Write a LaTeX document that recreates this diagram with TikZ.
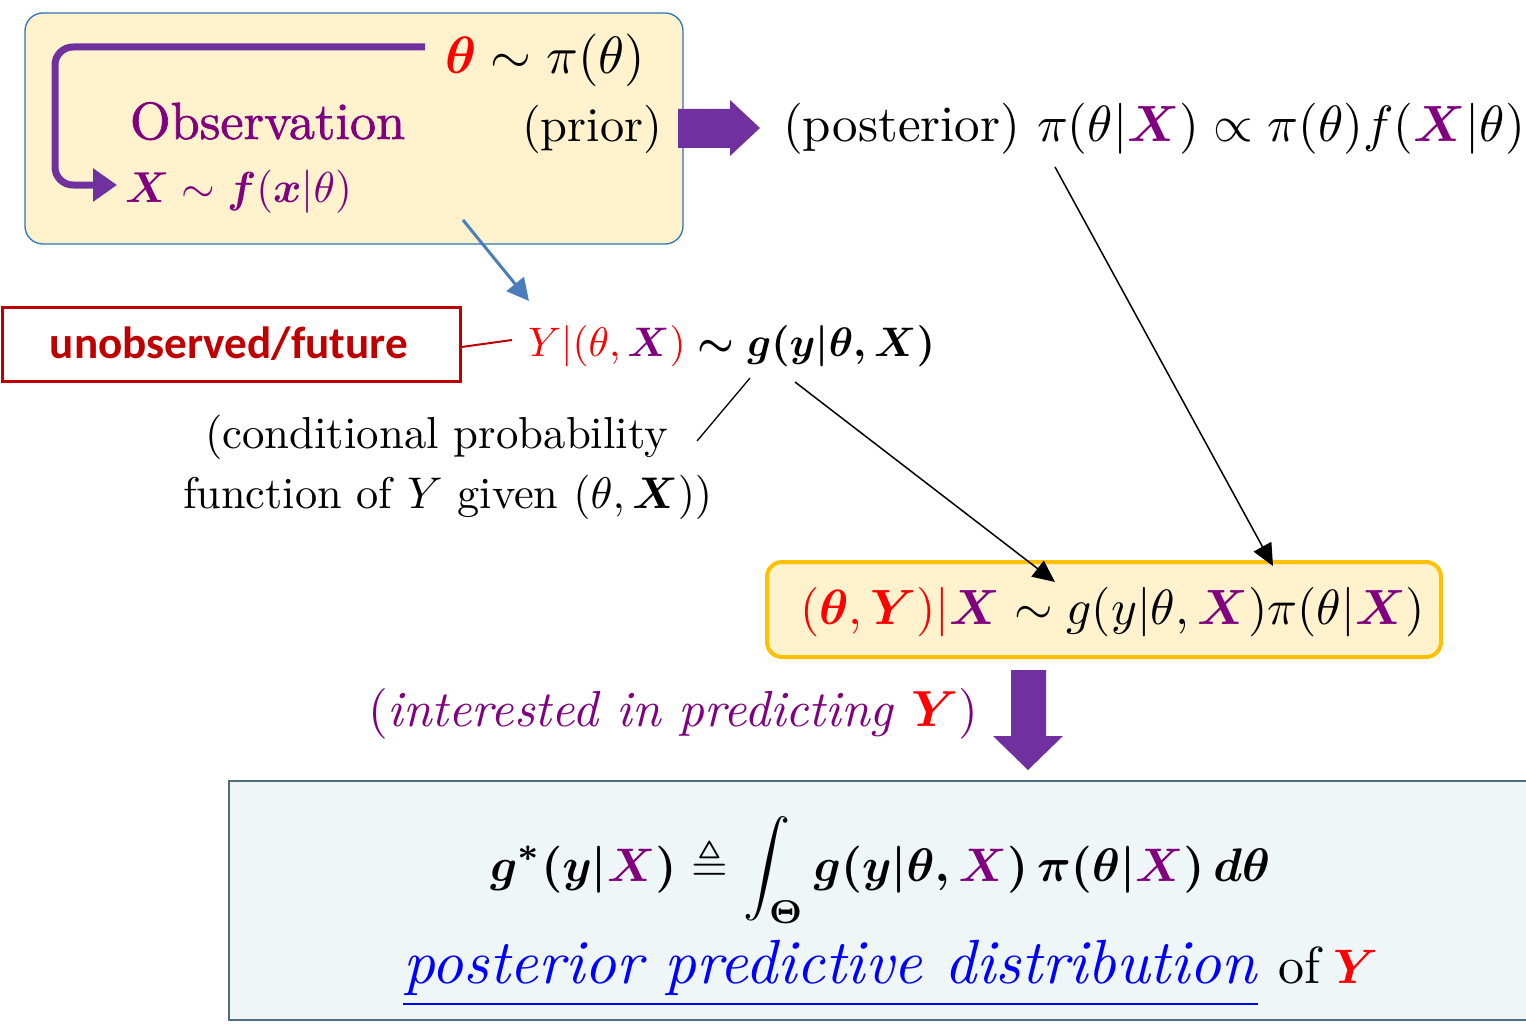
\documentclass[tikz,border=0pt]{standalone}
\usepackage{amsmath,amssymb,bm}
\usepackage{fontspec}
\newfontfamily\calibri{Carlito}
\newfontfamily\obsfont{Latin Modern Roman}[FakeBold=1.2]
\usetikzlibrary{arrows.meta}
\definecolor{boxyellow}{HTML}{FFF2CC}
\definecolor{boxblue}{HTML}{2E75B6}
\definecolor{arrowpurple}{HTML}{7030A0}
\definecolor{txtpurple}{HTML}{800080}
\definecolor{thetared}{HTML}{FF0000}
\definecolor{darkred}{HTML}{C00000}
\definecolor{arrowblue}{HTML}{4A7EBB}
\definecolor{gold}{HTML}{FFC000}
\definecolor{panelfill}{HTML}{EEF6F8}
\definecolor{paneledge}{HTML}{4F6D7A}
\definecolor{linkblue}{HTML}{0000FF}
\newcommand{\pX}{{\color{txtpurple}\boldsymbol{X}}}
\begin{document}
\begin{tikzpicture}[x=1pt,y=-1pt,
  txt/.style={anchor=base west, inner sep=0pt, outer sep=0pt},
  blackarrow/.style={line width=1.5pt, -{Triangle[length=22pt,width=20pt]}},
  fatarrow/.style={fill=arrowpurple, draw=none}]
\useasboundingbox (0,0) rectangle (1526,1030);

% top-left observation box
\draw[boxblue, line width=1.3pt, fill=boxyellow, rounded corners=18pt] (25,13) rectangle (683,244);

\node[txt] (prior) at (445,74) {\resizebox{200pt}{!}{${\color{thetared}\boldsymbol{\theta}}\sim\pi(\theta)$}};
\node[txt] (priorlbl) at (522,142) {\resizebox{140pt}{!}{(prior)}};
\node[txt] (obs) at (130,139) {\resizebox{275pt}{!}{\obsfont\color{txtpurple}Observation}};
\node[txt] (xdist) at (125,203) {\resizebox{227pt}{!}{\color{txtpurple}$\boldsymbol{X}\sim \boldsymbol{f}(\boldsymbol{x}|\theta)$}};

\coordinate (bendstart) at (425,47);
\coordinate (bendend) at (117,185);
\draw[arrowpurple, line width=7pt, rounded corners=18pt, -{Triangle[length=24pt,width=32pt]}]
  (bendstart) -- (55,47) -- (55,185) -- (bendend);

% fat right arrow
\path[fatarrow] (678,109) -- (730,109) -- (730,100) -- (760,128) -- (730,156) -- (730,148) -- (678,148) -- cycle;

\node[txt] (post) at (783,142) {\resizebox{742pt}{!}{(posterior)\ $\pi(\theta|\pX)\propto\pi(\theta)f(\pX|\theta)$}};

% blue arrow
\coordinate (bluestart) at (463,220);
\coordinate (blueend) at (529,301);
\draw[arrowblue, line width=3pt, -{Triangle[length=22pt,width=22pt]}] (bluestart) -- (blueend);

% red box
\node[draw=darkred, line width=2.5pt, minimum width=458pt, minimum height=74pt, anchor=north west, inner sep=0pt] (unobs) at (1,306) {};
\node[anchor=center, inner sep=0pt] (unobstxt) at (229,344) {\resizebox{358pt}{!}{\calibri\bfseries\color{darkred}unobserved/future}};

\node[txt] (ycond) at (528,356) {\resizebox{407pt}{!}{{\color{thetared}$Y|(\theta,\pX)$}\;{\boldmath$\sim g(y|\theta,X)$}}};
\coordinate (redend) at (512,340);
\draw[darkred, line width=2pt] (unobs.east |- 0,347) -- (redend);

\node[txt] (cond1) at (205,448) {\resizebox{463pt}{!}{(conditional probability}};
\node[txt] (cond2) at (183,508) {\resizebox{529pt}{!}{function of $Y$ given $(\theta,\boldsymbol{X}))$}};

\coordinate (gpt) at (750,378);
\coordinate (condpt) at (697,441);
\draw[line width=1.3pt] (gpt) -- (condpt);

% joint box
\draw[gold, line width=4pt, fill=boxyellow, rounded corners=15pt] (767,562) rectangle (1441,657);
\node[txt] (joint) at (800,624) {\resizebox{625pt}{!}{${\color{thetared}(\boldsymbol{\theta},\boldsymbol{Y})|}\pX\sim g(y|\theta,\pX)\pi(\theta|\pX)$}};

\coordinate (a1s) at (795,382);
\coordinate (a1e) at (1055,582);
\coordinate (a2s) at (1055,167);
\coordinate (a2e) at (1273,566);
\draw[blackarrow] (a1s) -- (a1e);
\draw[blackarrow] (a2s) -- (a2e);

\node[txt] (interest) at (368,726) {\resizebox{610pt}{!}{\color{txtpurple}(\textit{interested in predicting}\ {\color{thetared}$\boldsymbol{Y}$})}};

% fat down arrow
\path[fatarrow] (1011,670) -- (1046,670) -- (1046,736) -- (1063,736) -- (1028,770) -- (993,736) -- (1011,736) -- cycle;

% bottom panel
\draw[paneledge, line width=2pt, fill=panelfill] (229,781) rectangle (1540,1020);
\node[txt] (ppd) at (490,881) {\resizebox{780pt}{!}{\boldmath$\displaystyle g^{*}(y|{\color{txtpurple}X})\triangleq\int_{\Theta} g(y|\theta,{\color{txtpurple}X})\,\pi(\theta|{\color{txtpurple}X})\,d\theta$}};
\node[txt] (ppdlbl) at (403,983) {\resizebox{855pt}{!}{\color{linkblue}\underline{\textit{posterior predictive distribution}}}};
\node[txt] (oftxt) at (1278,983) {\resizebox{42pt}{!}{of}};
\node[txt] (ytxt) at (1333,983) {\resizebox{45pt}{!}{\color{thetared}$\boldsymbol{Y}$}};
\end{tikzpicture}
\end{document}
